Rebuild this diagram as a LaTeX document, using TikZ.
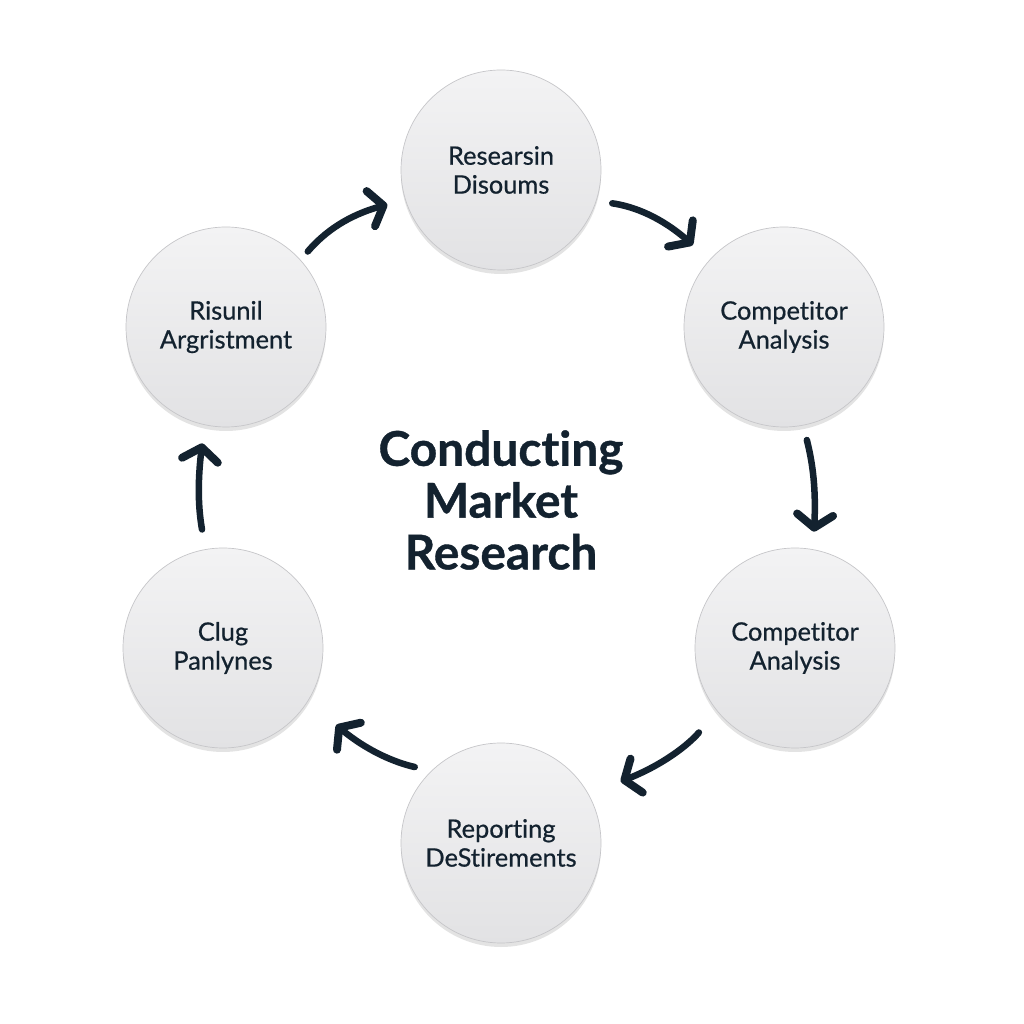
\documentclass[tikz,border=0pt]{standalone}
\usepackage{fontspec}
\setmainfont{Lato}[Ligatures=NoCommon,BoldFeatures={FakeBold=0.8}]
\newfontfamily\nodefont[FakeBold=0.6,Ligatures=NoCommon]{Lato}
\usetikzlibrary{arrows.meta,shadows,bending}
\definecolor{ink}{HTML}{13222F}
\definecolor{disktop}{HTML}{F3F3F4}
\definecolor{diskbot}{HTML}{E2E2E4}
\definecolor{diskrim}{HTML}{C6C6C9}
\begin{document}
\begin{tikzpicture}[x=1bp,y=1bp,
  stage/.style={circle, minimum size=200bp, inner sep=0pt, draw=diskrim, line width=0.7bp,
    top color=disktop, bottom color=diskbot,
    drop shadow={opacity=0.22, shadow xshift=0bp, shadow yshift=-4bp},
    font=\nodefont\fontsize{25.5}{29}\selectfont, text=ink, align=center},
  flow/.style={draw=ink, line width=6.5bp, line cap=round,
    -{Straight Barb[length=13bp,width=36bp,line width=8bp,round]}},
  title/.style={font=\bfseries\fontsize{48}{52}\selectfont, text=ink, align=center}]
\useasboundingbox (0,0) rectangle (1024,1024);
\fill[white] (0,0) rectangle (1024,1024);

\node[stage] (T)  at (501,854) {Researsin\\Disoums};
\node[stage] (TR) at (784,697) {Competitor\\Analysis};
\node[stage] (RB) at (795,376) {Competitor\\Analysis};
\node[stage] (B)  at (501,181) {Reporting\\DeStirements};
\node[stage] (LB) at (223,376) {Clug\\Panlynes};
\node[stage] (TL) at (226,697) {Risunil\\Argristment};

\node[title] (C) at (501,524) {Conducting\\Market\\Research};

\draw[flow, shorten <=11bp, shorten >=19bp] (TL.42) to[bend left=20] (T.198);
\draw[flow, shorten <=16bp, shorten >=23bp] (T.342) to[bend left=20] (TR.139);
\draw[flow, shorten <=15bp, shorten >=18bp] (TR.281) to[bend left=10] (RB.80);
\draw[flow, shorten <=28bp, shorten >=37bp] (RB.219) to[bend left=18] (B.31);
\draw[flow, shorten <=17bp, shorten >=40bp] (B.134) to[bend left=18] (LB.330);
\draw[flow, shorten <=20bp, shorten >=19bp] (LB.100) to[bend left=10] (TL.258);
\end{tikzpicture}
\end{document}
